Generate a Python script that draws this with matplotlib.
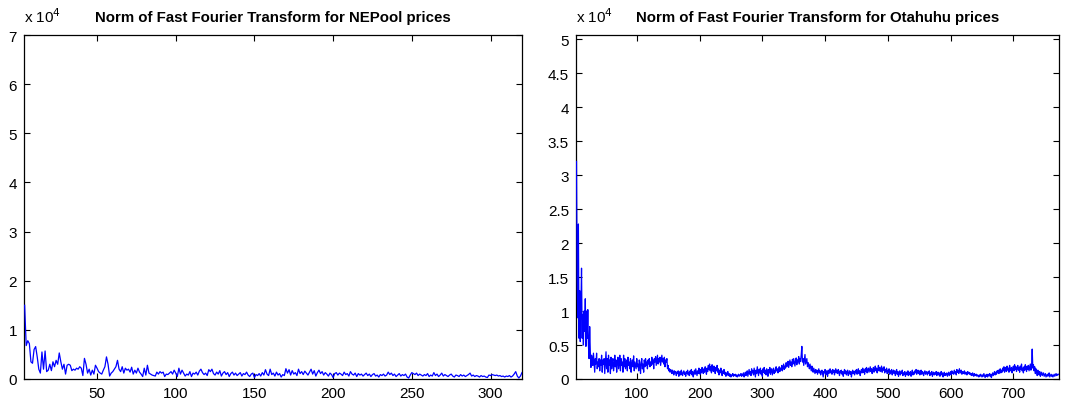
import numpy as np
import matplotlib
matplotlib.use("Agg")
import matplotlib.pyplot as plt
from matplotlib.ticker import FuncFormatter

plt.rcParams['font.family'] = ['Liberation Sans', 'DejaVu Sans']

# ---- data (units of 1e4), index starts at 4 ----
nepool_start = 4
nepool_vals = [
    1.50, 0.68, 0.78, 0.72, 0.35, 0.32, 0.60, 0.66, 0.45, 0.20, 0.12, 0.55, 0.20, 0.57, 0.15, 0.18, 0.30, 0.17, 0.35, 0.25,
    0.38, 0.30, 0.53, 0.35, 0.20, 0.30, 0.10, 0.28, 0.30, 0.28, 0.17, 0.20, 0.18, 0.22, 0.20, 0.25, 0.22, 0.07, 0.42, 0.30,
    0.12, 0.20, 0.08, 0.18, 0.10, 0.28, 0.22, 0.15, 0.12, 0.10, 0.18, 0.25, 0.45, 0.30, 0.06, 0.12, 0.15, 0.20, 0.25, 0.38,
    0.20, 0.15, 0.25, 0.12, 0.22, 0.18, 0.20, 0.14, 0.24, 0.10, 0.18, 0.12, 0.22, 0.14, 0.10, 0.05, 0.22, 0.08, 0.28, 0.12,
    0.10, 0.08, 0.07, 0.06, 0.14, 0.10, 0.15, 0.12, 0.14, 0.05, 0.10, 0.09, 0.12, 0.15, 0.10, 0.18, 0.12, 0.05, 0.22, 0.10,
    0.18, 0.12, 0.06, 0.10, 0.08, 0.15, 0.05, 0.12,
    0.10, 0.14, 0.08, 0.16, 0.20, 0.13, 0.09, 0.12, 0.07, 0.19, 0.15, 0.20, 0.11, 0.08, 0.14, 0.10, 0.17, 0.06, 0.12, 0.15,
    0.09, 0.13, 0.05, 0.11, 0.14, 0.08, 0.12, 0.07, 0.10, 0.13, 0.06, 0.11, 0.09, 0.14, 0.08, 0.05, 0.10, 0.12, 0.03, 0.09,
    0.07, 0.11, 0.06, 0.13, 0.08, 0.19, 0.10, 0.07, 0.20, 0.09, 0.12, 0.06, 0.14, 0.08, 0.11, 0.04, 0.09, 0.07, 0.21, 0.12,
    0.19, 0.08, 0.17, 0.10, 0.13, 0.07, 0.20, 0.11, 0.15, 0.09, 0.16, 0.12, 0.08, 0.14, 0.20, 0.10, 0.17, 0.06, 0.13, 0.18,
    0.11, 0.15, 0.08, 0.13, 0.10, 0.06, 0.12, 0.09, 0.03, 0.11, 0.13, 0.08, 0.12, 0.10, 0.07, 0.14, 0.09, 0.11, 0.06, 0.15,
    0.10, 0.08, 0.12, 0.05, 0.11, 0.08, 0.10, 0.06, 0.09, 0.12, 0.07, 0.10, 0.05, 0.09, 0.11, 0.06, 0.08, 0.04, 0.09, 0.07,
    0.10, 0.06, 0.08, 0.14, 0.09, 0.12, 0.07, 0.10, 0.05, 0.08, 0.11, 0.06, 0.09, 0.07, 0.10, 0.04, 0.02, 0.08, 0.13, 0.11,
    0.09, 0.12, 0.07, 0.10, 0.08, 0.06, 0.09, 0.07, 0.11, 0.05, 0.08, 0.06, 0.13, 0.07, 0.10, 0.05, 0.08, 0.12, 0.06, 0.09,
    0.07, 0.05, 0.08, 0.10, 0.06, 0.04, 0.08, 0.07, 0.05, 0.09, 0.06, 0.08, 0.05, 0.07, 0.09, 0.12, 0.06, 0.08, 0.05, 0.07,
    0.06, 0.04, 0.07, 0.05, 0.06, 0.04, 0.03, 0.08, 0.07, 0.09, 0.08, 0.07, 0.08, 0.06, 0.07, 0.05, 0.06, 0.04, 0.06, 0.05,
    0.07, 0.04, 0.06, 0.10, 0.15, 0.06, 0.02, 0.06, 0.13,
]

otahuhu_start = 4
otahuhu_vals = [
    3.20, 1.50, 0.90, 2.28, 0.60, 1.30, 0.55, 1.00, 1.63, 0.60, 0.95, 0.50, 1.00, 0.70, 1.18, 0.48, 1.00, 0.60, 1.02, 0.50,
    0.30, 0.77, 0.40, 0.17, 0.35, 0.30, 0.20, 0.38, 0.25, 0.10, 0.30, 0.22, 0.38, 0.15, 0.25, 0.18, 0.30, 0.12, 0.28, 0.20,
    0.35, 0.10, 0.28, 0.22, 0.30, 0.08, 0.25, 0.40, 0.15, 0.30, 0.10, 0.35, 0.20, 0.28, 0.08, 0.32, 0.15, 0.25, 0.30, 0.12,
    0.20, 0.35, 0.18, 0.28, 0.10, 0.25, 0.32, 0.15, 0.22, 0.35, 0.12, 0.30, 0.20, 0.25, 0.10, 0.35, 0.18, 0.30, 0.15, 0.22,
    0.28, 0.12, 0.32, 0.20, 0.25, 0.15, 0.30, 0.10, 0.22, 0.28, 0.18, 0.34, 0.12, 0.25, 0.20, 0.15, 0.30, 0.18, 0.22, 0.12,
    0.28, 0.20, 0.08, 0.25, 0.30, 0.15, 0.22, 0.10, 0.28, 0.18, 0.30, 0.20, 0.25, 0.15, 0.28, 0.22, 0.30, 0.18, 0.25, 0.20,
    0.32, 0.22, 0.28, 0.15, 0.30, 0.25, 0.33, 0.20, 0.28, 0.35, 0.22, 0.30, 0.25, 0.32, 0.20, 0.28, 0.35, 0.25, 0.30, 0.22,
    0.32, 0.18, 0.28, 0.25, 0.30, 0.15, 0.20, 0.12, 0.15, 0.10, 0.14, 0.12, 0.08, 0.13, 0.10, 0.06, 0.12, 0.09, 0.11, 0.05,
    0.10, 0.08, 0.12, 0.04, 0.09, 0.11, 0.06, 0.13, 0.08, 0.05, 0.10, 0.12, 0.07, 0.09, 0.04, 0.11, 0.08, 0.13, 0.06, 0.10,
    0.05, 0.12, 0.08, 0.14, 0.06, 0.11, 0.03, 0.09, 0.13, 0.07, 0.15, 0.10, 0.05, 0.12, 0.08, 0.16, 0.11, 0.07, 0.14, 0.09,
    0.17, 0.12, 0.08, 0.15, 0.10, 0.18, 0.13, 0.07, 0.16, 0.11, 0.20, 0.14, 0.22, 0.12, 0.18, 0.09, 0.21, 0.15, 0.11, 0.19,
    0.14, 0.08, 0.17, 0.12, 0.20, 0.10, 0.15, 0.06, 0.13, 0.09, 0.16, 0.11, 0.05, 0.12, 0.08, 0.14, 0.07, 0.10, 0.04, 0.09,
    0.06, 0.11, 0.05, 0.08, 0.04, 0.07, 0.03, 0.06, 0.05, 0.08, 0.04, 0.06, 0.05, 0.07, 0.04, 0.06, 0.03, 0.05, 0.07, 0.04,
    0.06, 0.05, 0.08, 0.04, 0.07, 0.05, 0.09, 0.03, 0.06, 0.10, 0.05, 0.08, 0.12, 0.04, 0.09, 0.14, 0.07, 0.11, 0.05, 0.15,
    0.09, 0.12, 0.06, 0.16, 0.10, 0.03, 0.13, 0.08, 0.18, 0.11, 0.05, 0.14, 0.09, 0.16, 0.07, 0.12, 0.04, 0.15, 0.10, 0.17,
    0.08, 0.13, 0.06, 0.15, 0.11, 0.04, 0.14, 0.09, 0.17, 0.07, 0.12, 0.15, 0.06, 0.11, 0.16, 0.08, 0.13, 0.10, 0.18, 0.12,
    0.15, 0.09, 0.14, 0.18, 0.11, 0.16, 0.13, 0.20, 0.12, 0.17, 0.22, 0.14, 0.19, 0.16, 0.24, 0.18, 0.21, 0.26, 0.17, 0.23,
    0.28, 0.20, 0.25, 0.18, 0.29, 0.22, 0.30, 0.24, 0.19, 0.27, 0.31, 0.21, 0.28, 0.25, 0.33, 0.22, 0.30, 0.26, 0.35, 0.48,
    0.25, 0.30, 0.20, 0.28, 0.36, 0.22, 0.26, 0.30, 0.18, 0.24, 0.20, 0.15, 0.22, 0.17, 0.12, 0.19, 0.14, 0.10, 0.16, 0.12,
    0.08, 0.14, 0.10, 0.13, 0.07, 0.11, 0.15, 0.09, 0.12, 0.06, 0.10, 0.13, 0.08, 0.03, 0.11, 0.09, 0.14, 0.06, 0.12, 0.10,
    0.04, 0.13, 0.08, 0.11, 0.15, 0.09, 0.12, 0.07, 0.14, 0.10, 0.13, 0.06, 0.11, 0.15, 0.09, 0.12, 0.08, 0.14, 0.10, 0.05,
    0.12, 0.09, 0.13, 0.07, 0.11, 0.04, 0.10, 0.14, 0.08, 0.12, 0.06, 0.10, 0.13, 0.05, 0.09, 0.12, 0.07, 0.11, 0.03, 0.09,
    0.13, 0.08, 0.11, 0.06, 0.12, 0.09, 0.14, 0.07, 0.10, 0.15, 0.08, 0.12, 0.05, 0.11, 0.14, 0.09, 0.16, 0.10, 0.13, 0.07,
    0.15, 0.11, 0.17, 0.09, 0.13, 0.16, 0.10, 0.14, 0.18, 0.11, 0.15, 0.08, 0.13, 0.17, 0.10, 0.14, 0.19, 0.12, 0.16, 0.09,
    0.14, 0.20, 0.12, 0.17, 0.11, 0.15, 0.19, 0.10, 0.16, 0.13, 0.18, 0.09, 0.14, 0.11, 0.16, 0.08, 0.13, 0.10, 0.15, 0.07,
    0.12, 0.09, 0.14, 0.06, 0.11, 0.13, 0.08, 0.12, 0.05, 0.10, 0.14, 0.07, 0.11, 0.04, 0.09, 0.12, 0.06, 0.10, 0.08, 0.13,
    0.05, 0.09, 0.07, 0.11, 0.04, 0.08, 0.10, 0.06, 0.12, 0.05, 0.09, 0.07, 0.11, 0.04, 0.08, 0.13, 0.06, 0.10, 0.07, 0.12,
    0.09, 0.14, 0.07, 0.11, 0.13, 0.08, 0.12, 0.06, 0.10, 0.13, 0.07, 0.11, 0.09, 0.05, 0.10, 0.12, 0.07, 0.09, 0.11, 0.06,
    0.10, 0.08, 0.12, 0.05, 0.09, 0.07, 0.11, 0.04, 0.08, 0.10, 0.06, 0.09, 0.07, 0.11, 0.05, 0.08, 0.10, 0.06, 0.09, 0.04,
    0.08, 0.11, 0.06, 0.09, 0.03, 0.07, 0.10, 0.05, 0.08, 0.06, 0.09, 0.04, 0.07, 0.10, 0.05, 0.08, 0.11, 0.06, 0.12, 0.08,
    0.10, 0.07, 0.13, 0.09, 0.11, 0.06, 0.14, 0.10, 0.12, 0.08, 0.15, 0.11, 0.09, 0.13, 0.07, 0.11, 0.10, 0.08, 0.12, 0.07,
    0.10, 0.09, 0.06, 0.11, 0.08, 0.10, 0.07, 0.09, 0.06, 0.08, 0.05, 0.09, 0.07, 0.04, 0.08, 0.06, 0.05, 0.07, 0.04, 0.06,
    0.05, 0.03, 0.06, 0.04, 0.07, 0.05, 0.03, 0.06, 0.04, 0.08, 0.05, 0.02, 0.06, 0.04, 0.07, 0.03, 0.06, 0.05, 0.08, 0.04,
    0.07, 0.02, 0.06, 0.09, 0.05, 0.08, 0.11, 0.06, 0.10, 0.07, 0.12, 0.09, 0.13, 0.08, 0.11, 0.15, 0.09, 0.13, 0.10, 0.16,
    0.12, 0.18, 0.10, 0.14, 0.17, 0.11, 0.19, 0.13, 0.16, 0.10, 0.20, 0.14, 0.12, 0.17, 0.09, 0.15, 0.19, 0.12, 0.21, 0.14,
    0.18, 0.11, 0.16, 0.20, 0.13, 0.17, 0.10, 0.19, 0.14, 0.22, 0.12, 0.16, 0.09, 0.18, 0.13, 0.21, 0.15, 0.11, 0.19, 0.14,
    0.20, 0.12, 0.17, 0.22, 0.13, 0.19, 0.44, 0.16, 0.21, 0.12, 0.18, 0.08, 0.15, 0.11, 0.05, 0.13, 0.09, 0.06, 0.11, 0.04,
    0.08, 0.10, 0.05, 0.07, 0.09, 0.04, 0.06, 0.08, 0.03, 0.05, 0.07, 0.04, 0.06, 0.09, 0.03, 0.05, 0.07, 0.04, 0.06, 0.03,
    0.05, 0.07, 0.04, 0.06, 0.08, 0.05, 0.07, 0.06, 0.07,
]

titles = ["Norm of Fast Fourier Transform for NEPool prices",
          "Norm of Fast Fourier Transform for Otahuhu prices"]
left_xticks = [50, 100, 150, 200, 250, 300]
left_yticks = [0, 1, 2, 3, 4, 5, 6, 7]
right_xticks = [100, 200, 300, 400, 500, 600, 700]
right_yticks = [0, 0.5, 1, 1.5, 2, 2.5, 3, 3.5, 4, 4.5, 5]

W, H = 1082, 410
fig = plt.figure(figsize=(W / 100, H / 100), dpi=100)

def make_axes(rect_px):
    x0, y0, x1, y1 = rect_px
    return fig.add_axes([x0 / W, 1 - y1 / H, (x1 - x0) / W, (y1 - y0) / H])

ax1 = make_axes((24, 36, 522, 380))
ax2 = make_axes((576, 36, 1059, 380))

x1 = np.arange(len(nepool_vals)) + nepool_start
x2 = np.arange(len(otahuhu_vals)) + otahuhu_start
ax1.plot(x1, nepool_vals, color=(0, 0, 1), lw=0.9, zorder=3)
ax2.plot(x2, otahuhu_vals, color=(0, 0, 1), lw=0.9, zorder=3)

ax1.set_xlim(3.6, 320)
ax1.set_ylim(0, 7.0)
ax2.set_xlim(3.2, 772.7)
ax2.set_ylim(0, 5.06)

fmt = FuncFormatter(lambda v, p: "%g" % v)
for ax, xt, yt, title in [(ax1, left_xticks, left_yticks, titles[0]),
                          (ax2, right_xticks, right_yticks, titles[1])]:
    ax.set_xticks(xt)
    ax.set_yticks(yt)
    ax.yaxis.set_major_formatter(fmt)
    ax.tick_params(direction='in', top=True, right=True, length=4, width=0.8,
                   labelsize=11, colors='black', pad=5)
    for s in ax.spines.values():
        s.set_linewidth(0.9)
        s.set_color('black')
    ax.set_title(title, fontsize=10.8, fontweight='bold', pad=10)
    ax.text(0.0, 1.03, r"x 10$^{4}$", transform=ax.transAxes,
            fontsize=11, ha='left', va='bottom')

fig.savefig("out.png", dpi=100)
